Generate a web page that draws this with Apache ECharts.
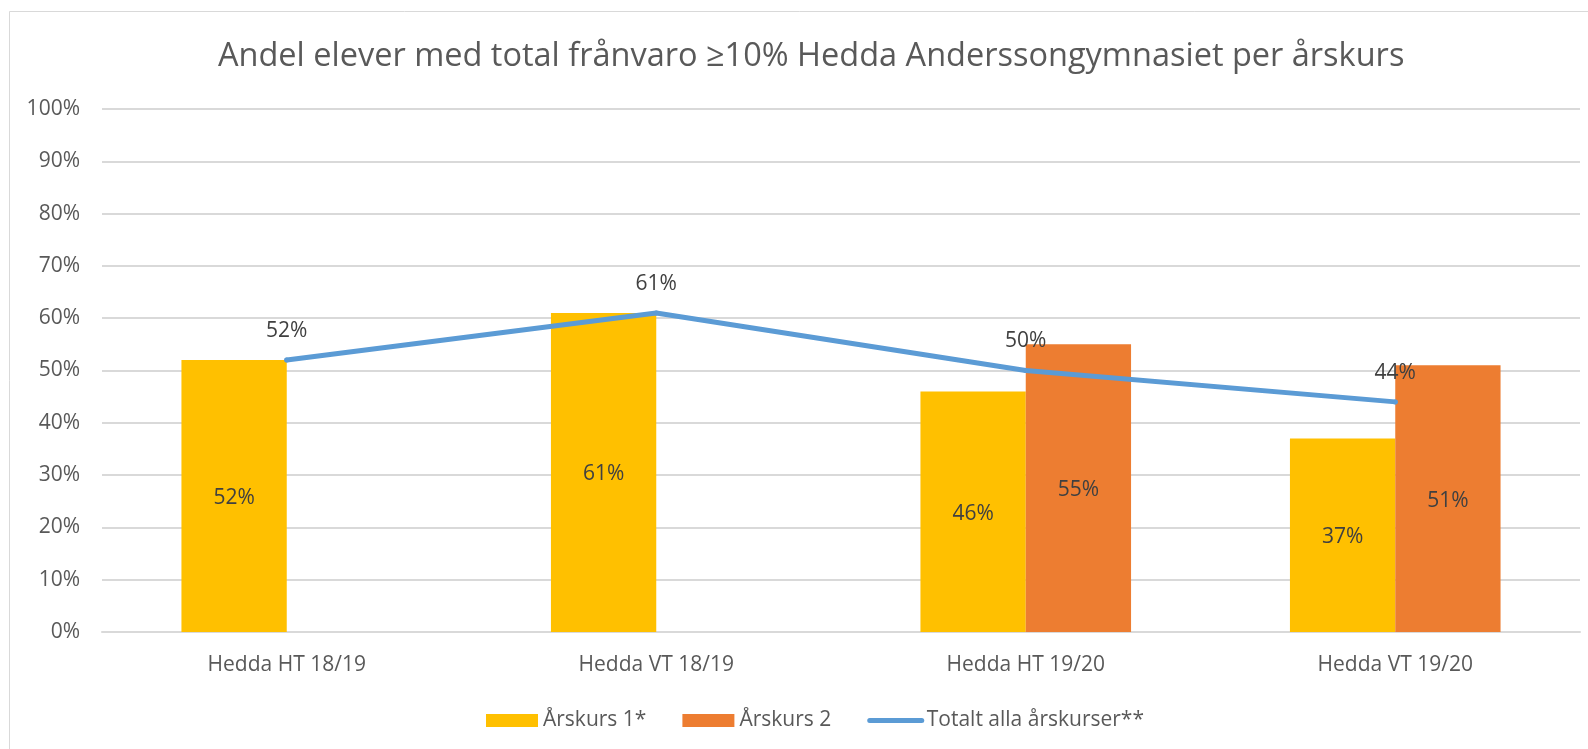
<!DOCTYPE html>
<html>
<head>
<meta charset="utf-8">
<script src="https://cdn.jsdelivr.net/npm/echarts@6/dist/echarts.min.js"></script>
<style>
  html, body { margin: 0; padding: 0; background: #fff; }
  #chart { width: 1588px; height: 749px; }
</style>
</head>
<body>
<div id="chart"></div>
<script>
// data
const categories = ["Hedda HT 18/19", "Hedda VT 18/19", "Hedda HT 19/20", "Hedda VT 19/20"];
const arskurs1 = [0.52, 0.61, 0.46, 0.37];
const arskurs2 = [null, null, 0.55, 0.51];
const totalt = [0.52, 0.61, 0.50, 0.44];

const FONT = "'Open Sans', 'DejaVu Sans', sans-serif";
const pct = v => Math.round(v * 100) + "%";

const chart = echarts.init(document.getElementById("chart"));

const barLabel = {
  show: true,
  position: "inside",
  offset: [0, 2],
  fontFamily: FONT,
  fontSize: 21,
  color: "#404040",
  formatter: p => pct(p.value)
};

chart.setOption({
  backgroundColor: "#fff",
  animation: false,
  textStyle: { fontFamily: FONT },
  graphic: [
    {
      type: "rect",
      shape: { x: 9.5, y: 11.5, width: 1700, height: 900 },
      style: { fill: "none", stroke: "#d9d9d9", lineWidth: 1 },
      silent: true
    }
  ],
  title: {
    text: "Andel elever med total frånvaro ≥10% Hedda Anderssongymnasiet per årskurs",
    left: 218,
    top: 40,
    padding: 0,
    textStyle: { fontFamily: FONT, fontSize: 32.5, fontWeight: "normal", color: "#595959" }
  },
  legend: {
    data: [
      { name: "Årskurs 1*", icon: "rect" },
      { name: "Årskurs 2", icon: "rect" },
      {
        name: "Totalt alla årskurser**",
        itemStyle: { opacity: 0 },
        lineStyle: { width: 5, cap: "round", color: "#5b9bd5" }
      }
    ],
    left: 486,
    top: 710,
    padding: 0,
    itemWidth: 52,
    itemHeight: 13,
    itemGap: 36,
    textStyle: { fontFamily: FONT, fontSize: 21, color: "#595959" }
  },
  grid: { left: 102, right: 8, top: 109, bottom: 117 },
  xAxis: {
    type: "category",
    data: categories,
    axisTick: { show: false },
    axisLine: { lineStyle: { color: "#d9d9d9", width: 2 } },
    axisLabel: { fontFamily: FONT, fontSize: 21, color: "#595959", margin: 23 }
  },
  yAxis: {
    type: "value",
    min: 0,
    max: 1,
    interval: 0.1,
    axisLine: { show: false },
    axisTick: { show: false },
    axisLabel: { fontFamily: FONT, fontSize: 21, color: "#595959", margin: 22, formatter: pct },
    splitLine: { lineStyle: { color: "#d9d9d9", width: 2 } }
  },
  series: [
    {
      name: "Årskurs 1*",
      type: "bar",
      data: arskurs1,
      barGap: "0%",
      barCategoryGap: "43%",
      itemStyle: { color: "#ffc000" },
      label: barLabel
    },
    {
      name: "Årskurs 2",
      type: "bar",
      data: arskurs2,
      barGap: "0%",
      barCategoryGap: "43%",
      itemStyle: { color: "#ed7d31" },
      label: barLabel
    },
    {
      name: "Totalt alla årskurser**",
      type: "line",
      data: totalt,
      symbol: "circle",
      symbolSize: 5,
      showSymbol: true,
      lineStyle: { color: "#5b9bd5", width: 5, cap: "round" },
      itemStyle: { color: "#5b9bd5" },
      label: {
        show: true,
        position: "top",
        distance: 16,
        fontFamily: FONT,
        fontSize: 21,
        color: "#404040",
        formatter: p => pct(p.value)
      }
    }
  ]
});
</script>
</body>
</html>
